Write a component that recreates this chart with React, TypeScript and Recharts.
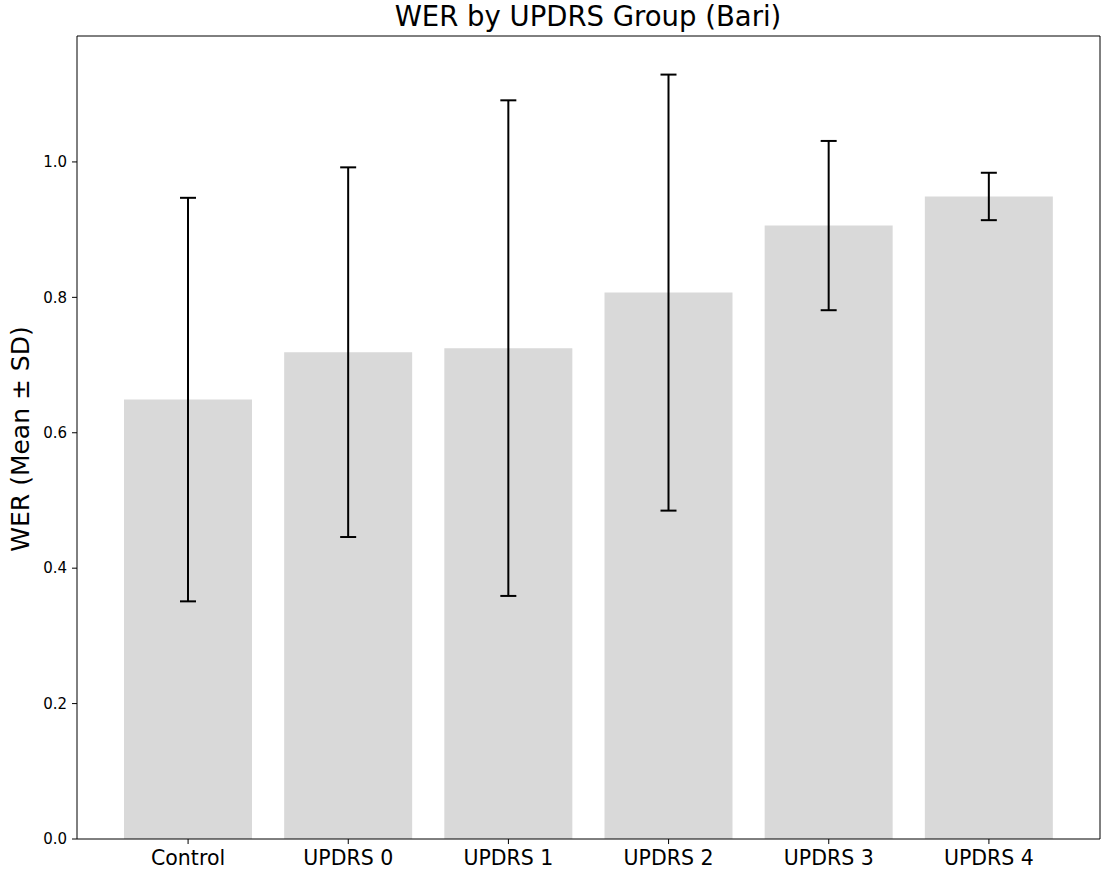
import React from "react"
import { BarChart, Bar, XAxis, YAxis, ErrorBar } from "recharts"

// WER per UPDRS group, mean and standard deviation
const groups = ["Control", "UPDRS 0", "UPDRS 1", "UPDRS 2", "UPDRS 3", "UPDRS 4"]
const werMean = [0.649, 0.719, 0.725, 0.807, 0.906, 0.949]
const werSd = [0.298, 0.273, 0.366, 0.322, 0.125, 0.035]
const yTicks = [0, 0.2, 0.4, 0.6, 0.8, 1.0]

const data = groups.map((group, i) => ({ group, mean: werMean[i], sd: werSd[i] }))

const W = 1101
const H = 875
const FONT = "DejaVu Sans"
const yDomain: [number, number] = [0, 1.186]
const xPad = { left: 31, right: 31 }

export default function App() {
  return (
    <div style={{ position: "absolute", left: 0, top: 0, width: W, height: H, background: "#fff" }}>
      <BarChart
        width={W}
        height={H}
        data={data}
        margin={{ top: 35, right: 0, bottom: 0, left: 0 }}
        barSize={128}
        style={{ fontFamily: FONT }}
      >
        <XAxis
          dataKey="group"
          height={36}
          padding={xPad}
          stroke="#000"
          tickSize={5}
          tickMargin={6}
          tick={{ fill: "#000", fontSize: 20.5 }}
          interval={0}
        />
        {/* top and right spines */}
        <XAxis
          xAxisId="top"
          orientation="top"
          dataKey="group"
          height={1}
          padding={xPad}
          stroke="#000"
          tick={false}
          tickLine={false}
        />
        <YAxis
          width={77}
          domain={yDomain}
          ticks={yTicks}
          allowDataOverflow
          stroke="#000"
          tickSize={5}
          tickMargin={5}
          tick={{ fill: "#000", fontSize: 15 }}
          tickFormatter={(v: number) => v.toFixed(1)}
        />
        <YAxis
          yAxisId="right"
          orientation="right"
          width={1}
          domain={yDomain}
          stroke="#000"
          tick={false}
          tickLine={false}
        />
        <Bar dataKey="mean" fill="#d9d9d9" isAnimationActive={false}>
          <ErrorBar dataKey="sd" width={8} stroke="#000" strokeWidth={2} isAnimationActive={false} />
        </Bar>
      </BarChart>
      {/* title and y-axis label */}
      <svg
        width={W}
        height={H}
        style={{ position: "absolute", left: 0, top: 0, pointerEvents: "none", fontFamily: FONT }}
      >
        <text x={588} y={26} textAnchor="middle" fontSize={27.5} fill="#000">
          WER by UPDRS Group (Bari)
        </text>
        <text
          x={0}
          y={0}
          transform="translate(29, 439) rotate(-90)"
          textAnchor="middle"
          fontSize={25}
          fill="#000"
        >
          WER (Mean ± SD)
        </text>
      </svg>
    </div>
  )
}
